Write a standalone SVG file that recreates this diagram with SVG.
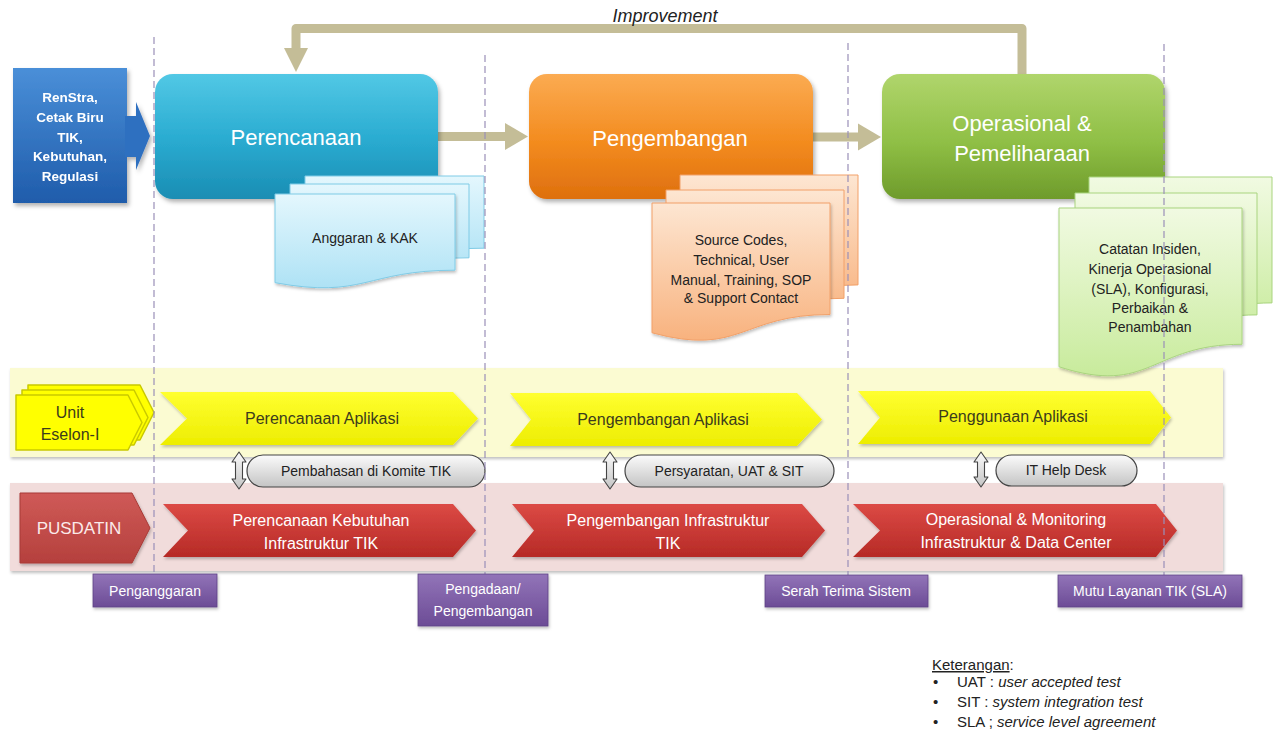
<svg xmlns="http://www.w3.org/2000/svg" width="1273" height="734" viewBox="0 0 1273 734">
<defs>
<linearGradient id="gBlue" x1="0" y1="0" x2="0" y2="1"><stop offset="0" stop-color="#4a8fd8"/><stop offset="1" stop-color="#1f5cab"/></linearGradient>
<linearGradient id="gTeal" x1="0" y1="0" x2="0" y2="1"><stop offset="0" stop-color="#52c8e5"/><stop offset="0.5" stop-color="#2badd2"/><stop offset="1" stop-color="#1a8db3"/></linearGradient>
<linearGradient id="gOrange" x1="0" y1="0" x2="0" y2="1"><stop offset="0" stop-color="#fbab52"/><stop offset="0.55" stop-color="#f38b1e"/><stop offset="1" stop-color="#de6f0e"/></linearGradient>
<linearGradient id="gGreen" x1="0" y1="0" x2="0" y2="1"><stop offset="0" stop-color="#b0d56c"/><stop offset="0.55" stop-color="#8fbf45"/><stop offset="1" stop-color="#6e9b2b"/></linearGradient>
<linearGradient id="gDocB" x1="0" y1="0" x2="0" y2="1"><stop offset="0" stop-color="#e4f7fd"/><stop offset="1" stop-color="#aee2f5"/></linearGradient>
<linearGradient id="gDocO" x1="0" y1="0" x2="0" y2="1"><stop offset="0" stop-color="#fde6d2"/><stop offset="1" stop-color="#f8b27e"/></linearGradient>
<linearGradient id="gDocG" x1="0" y1="0" x2="0" y2="1"><stop offset="0" stop-color="#f1fae2"/><stop offset="1" stop-color="#c8eb9c"/></linearGradient>
<linearGradient id="gYel" x1="0" y1="0" x2="0" y2="1"><stop offset="0" stop-color="#ffff30"/><stop offset="1" stop-color="#eded00"/></linearGradient>
<linearGradient id="gRed" x1="0" y1="0" x2="0" y2="1"><stop offset="0" stop-color="#dc4a45"/><stop offset="1" stop-color="#b62a26"/></linearGradient>
<linearGradient id="gPus" x1="0" y1="0" x2="0" y2="1"><stop offset="0" stop-color="#cf5a57"/><stop offset="1" stop-color="#b5403d"/></linearGradient>
<linearGradient id="gPurple" x1="0" y1="0" x2="0" y2="1"><stop offset="0" stop-color="#9274b8"/><stop offset="1" stop-color="#6c4c96"/></linearGradient>
<linearGradient id="gPill" x1="0" y1="0" x2="0" y2="1"><stop offset="0" stop-color="#fbfbfb"/><stop offset="1" stop-color="#c4c4c4"/></linearGradient>
<filter id="sh" x="-10%" y="-10%" width="125%" height="130%"><feDropShadow dx="2" dy="3" stdDeviation="2" flood-color="#000" flood-opacity="0.3"/></filter>
<filter id="shs" x="-10%" y="-10%" width="125%" height="130%"><feDropShadow dx="1" dy="2" stdDeviation="1.5" flood-color="#000" flood-opacity="0.25"/></filter>
<style>
text{font-family:"Liberation Sans",Arial,sans-serif;}
.main{font-size:22px;fill:#ffffff;text-anchor:middle;}
.doc{font-size:14px;fill:#222;text-anchor:middle;}
.yel{font-size:16px;fill:#3c3c1c;text-anchor:middle;}
.red{font-size:16px;fill:#ffffff;text-anchor:middle;}
.pill{font-size:14px;fill:#222;text-anchor:middle;}
.pur{font-size:14px;fill:#ffffff;text-anchor:middle;}
.leg{font-size:15px;fill:#222;}
.dash{stroke:#9a8fb8;stroke-width:1.2;stroke-dasharray:7 4;fill:none;}
.tan{stroke:#c4bd97;stroke-width:9;fill:none;stroke-linejoin:round;}
.tanf{fill:#c4bd97;}
.dblarr{fill:url(#gPill);stroke:#444;stroke-width:1.1;stroke-linejoin:round;}
.pillr{fill:url(#gPill);stroke:#444;stroke-width:1.2;}
</style>
</defs>
<rect width="1273" height="734" fill="#ffffff"/>

<!-- lanes -->
<g id="lane-unit"><rect x="10" y="368" width="1213" height="89" fill="#fbfbd2" filter="url(#shs)"/></g>
<g id="lane-pusdatin"><rect x="10" y="483" width="1213" height="88" fill="#f1dcdb" filter="url(#shs)"/></g>

<!-- connectors -->
<g id="connectors">
<path class="tan" d="M1022,74 V28.5 H296 V50"/>
<polygon class="tanf" points="284,48 308,48 296,72"/>
<line class="tan" x1="437" y1="136.5" x2="508" y2="136.5"/>
<polygon class="tanf" points="505,123 528,136.5 505,150"/>
<line class="tan" x1="813" y1="137" x2="861" y2="137"/>
<polygon class="tanf" points="858,123.5 881,137 858,150.5"/>
<path class="dblarr" d="M239,452 L246,462 L242.5,462 L242.5,479 L246,479 L239,489 L232,479 L235.5,479 L235.5,462 L232,462 Z"/>
<path class="dblarr" d="M610,452 L617,462 L613.5,462 L613.5,479 L617,479 L610,489 L603,479 L606.5,479 L606.5,462 L603,462 Z"/>
<path class="dblarr" d="M981,452 L988,462 L984.5,462 L984.5,477 L988,477 L981,487 L974,477 L977.5,477 L977.5,462 L974,462 Z"/>
</g>
<text x="665" y="22" font-size="18" font-style="italic" fill="#222" text-anchor="middle">Improvement</text>

<!-- input box -->
<g id="input" filter="url(#sh)">
<rect x="13" y="68" width="114" height="135" fill="url(#gBlue)"/>
<path d="M125,116 H136 V102 L150,136 L136,170 V157 H125 Z" fill="#2f6fc0"/>
<text font-size="13.5" font-weight="bold" fill="#ffffff" text-anchor="middle"><tspan x="70" y="102">RenStra,</tspan><tspan x="70" y="122">Cetak Biru</tspan><tspan x="70" y="142">TIK,</tspan><tspan x="70" y="161">Kebutuhan,</tspan><tspan x="70" y="181">Regulasi</tspan></text>
</g>

<!-- main boxes -->
<g id="perencanaan">
<rect x="155" y="74" width="283" height="125" rx="18" fill="url(#gTeal)" filter="url(#sh)"/>
<text class="main" x="296" y="145">Perencanaan</text>
</g>
<g id="pengembangan">
<rect x="529" y="74" width="284" height="125" rx="18" fill="url(#gOrange)" filter="url(#sh)"/>
<text class="main" x="670" y="146">Pengembangan</text>
</g>
<g id="operasional">
<rect x="882" y="74" width="283" height="125" rx="18" fill="url(#gGreen)" filter="url(#sh)"/>
<text class="main" x="1022" y="131">Operasional &amp;</text>
<text class="main" x="1022" y="161">Pemeliharaan</text>
</g>

<!-- documents -->
<g id="doc-anggaran" fill="url(#gDocB)" stroke="#7fcbe6" stroke-width="1">
<path d="M305,176 H484 V248.2 C394.5,248.2 394.5,275.6 305,260.1 Z"/>
<path d="M290,184 H469 V257.8 C379.5,257.8 379.5,285.8 290,269.9 Z"/>
<path d="M275,194 H455 V270.2 C365,270.2 365,299.2 275,282.7 Z" filter="url(#shs)"/>
<text class="doc" x="365" y="243" stroke="none">Anggaran &amp; KAK</text>
</g>
<g id="doc-source" fill="url(#gDocO)" stroke="#f2a068" stroke-width="1">
<path d="M680,175 H858 V284.9 C769,284.9 769,326.6 680,303 Z"/>
<path d="M666,190 H844 V298.3 C755,298.3 755,339.4 666,316.1 Z"/>
<path d="M652,203 H830 V314.5 C741,314.5 741,356.9 652,332.8 Z" filter="url(#shs)"/>
<text class="doc" stroke="none"><tspan x="741" y="245">Source Codes,</tspan><tspan x="741" y="265">Technical, User</tspan><tspan x="741" y="285">Manual, Training, SOP</tspan><tspan x="741" y="303">&amp; Support Contact</tspan></text>
</g>
<g id="doc-catatan" fill="url(#gDocG)" stroke="#a9d47e" stroke-width="1">
<path d="M1089,177 H1272 V302.9 C1180.5,302.9 1180.5,350.8 1089,323.6 Z"/>
<path d="M1075,193 H1257 V314.9 C1166,314.9 1166,361.3 1075,335 Z"/>
<path d="M1059,208 H1242 V344.3 C1150.5,344.3 1150.5,396.2 1059,366.8 Z" filter="url(#shs)"/>
<text class="doc" stroke="none"><tspan x="1150" y="254">Catatan Insiden,</tspan><tspan x="1150" y="274">Kinerja Operasional</tspan><tspan x="1150" y="294">(SLA), Konfigurasi,</tspan><tspan x="1150" y="313">Perbaikan &amp;</tspan><tspan x="1150" y="332">Penambahan</tspan></text>
</g>

<!-- lane headers -->
<g id="unit-eselon" fill="#ffff00" stroke="#c9c900" stroke-width="1.5" stroke-linejoin="round">
<path d="M28,385 H140 L154,412.5 L140,440 H28 Z"/>
<path d="M22,390 H134 L148,417.5 L134,445 H22 Z"/>
<path d="M16,395 H128 L142,422.5 L128,450 H16 Z"/>
<text class="yel" stroke="none"><tspan x="70" y="418">Unit</tspan><tspan x="70" y="440">Eselon-I</tspan></text>
</g>
<g id="pusdatin">
<path d="M20,493 H132 L150,528 L132,563 H20 Z" fill="url(#gPus)" stroke="#a83a37" stroke-width="1" stroke-linejoin="round" filter="url(#shs)"/>
<text x="79" y="534" font-size="17" fill="#fbeaea" text-anchor="middle">PUSDATIN</text>
</g>

<!-- yellow chevrons -->
<g id="perencanaan-aplikasi">
<path d="M160,392 H453 L478,418.5 L453,445 H160 L187,418.5 Z" fill="url(#gYel)" filter="url(#shs)"/>
<text class="yel" x="322" y="424">Perencanaan Aplikasi</text>
</g>
<g id="pengembangan-aplikasi">
<path d="M510,393 H797 L822,419.5 L797,446 H510 L531,419.5 Z" fill="url(#gYel)" filter="url(#shs)"/>
<text class="yel" x="663" y="425">Pengembangan Aplikasi</text>
</g>
<g id="penggunaan-aplikasi">
<path d="M858,391 H1150 L1171,417.5 L1150,444 H858 L880,417.5 Z" fill="url(#gYel)" filter="url(#shs)"/>
<text class="yel" x="1013" y="422">Penggunaan Aplikasi</text>
</g>

<!-- red chevrons -->
<g id="perencanaan-kebutuhan">
<path d="M163,504 H453 L476,530.5 L453,557 H163 L188,530.5 Z" fill="url(#gRed)" filter="url(#shs)"/>
<text class="red"><tspan x="321" y="526">Perencanaan Kebutuhan</tspan><tspan x="321" y="549">Infrastruktur TIK</tspan></text>
</g>
<g id="pengembangan-infrastruktur">
<path d="M512,504 H802 L825,530.5 L802,557 H512 L534,530.5 Z" fill="url(#gRed)" filter="url(#shs)"/>
<text class="red"><tspan x="668" y="526">Pengembangan Infrastruktur</tspan><tspan x="668" y="549">TIK</tspan></text>
</g>
<g id="operasional-monitoring">
<path d="M853,504 H1156 L1177,530.5 L1156,557 H853 L880,530.5 Z" fill="url(#gRed)" filter="url(#shs)"/>
<text class="red"><tspan x="1016" y="525">Operasional &amp; Monitoring</tspan><tspan x="1016" y="548">Infrastruktur &amp; Data Center</tspan></text>
</g>

<!-- pills -->
<g id="pembahasan"><rect class="pillr" x="247" y="455" width="238" height="32" rx="16"/><text class="pill" x="366" y="476">Pembahasan di Komite TIK</text></g>
<g id="persyaratan"><rect class="pillr" x="625" y="455" width="209" height="32" rx="16"/><text class="pill" x="729" y="476">Persyaratan, UAT &amp; SIT</text></g>
<g id="helpdesk"><rect class="pillr" x="996" y="455" width="141" height="31" rx="15.5"/><text class="pill" x="1066" y="475">IT Help Desk</text></g>

<!-- dashed phase lines -->
<g id="phase-lines">
<line class="dash" x1="154" y1="37" x2="154" y2="575"/>
<line class="dash" x1="485" y1="55" x2="485" y2="575"/>
<line class="dash" x1="848" y1="43" x2="848" y2="575"/>
<line class="dash" x1="1164" y1="44" x2="1164" y2="575"/>
</g>

<!-- milestones -->
<g id="penganggaran"><rect x="93" y="574" width="124" height="33" fill="url(#gPurple)" stroke="#5e4386" stroke-width="0.8" filter="url(#shs)"/><text class="pur" x="155" y="596">Penganggaran</text></g>
<g id="pengadaan"><rect x="418" y="574" width="130" height="52" fill="url(#gPurple)" stroke="#5e4386" stroke-width="0.8" filter="url(#shs)"/><text class="pur"><tspan x="483" y="594">Pengadaan/</tspan><tspan x="483" y="616">Pengembangan</tspan></text></g>
<g id="serah-terima"><rect x="765" y="575" width="163" height="32" fill="url(#gPurple)" stroke="#5e4386" stroke-width="0.8" filter="url(#shs)"/><text class="pur" x="846" y="596">Serah Terima Sistem</text></g>
<g id="mutu-layanan"><rect x="1058" y="575" width="184" height="32" fill="url(#gPurple)" stroke="#5e4386" stroke-width="0.8" filter="url(#shs)"/><text class="pur" x="1150" y="596">Mutu Layanan TIK (SLA)</text></g>

<!-- legend -->
<g id="legend">
<text class="leg" x="932" y="670"><tspan text-decoration="underline">Keterangan</tspan>:</text>
<text class="leg" x="933" y="687">•</text><text class="leg" x="957" y="687">UAT : <tspan font-style="italic">user accepted test</tspan></text>
<text class="leg" x="933" y="707">•</text><text class="leg" x="957" y="707">SIT : <tspan font-style="italic">system integration test</tspan></text>
<text class="leg" x="933" y="727">•</text><text class="leg" x="957" y="727">SLA ; <tspan font-style="italic">service level agreement</tspan></text>
</g>
</svg>
